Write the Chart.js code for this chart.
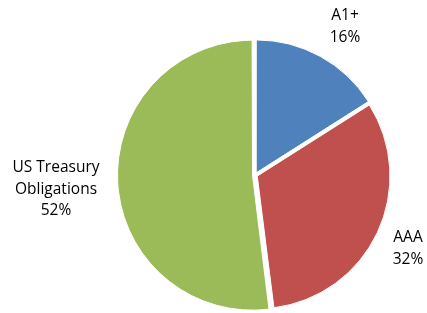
<!DOCTYPE html>
<html>
<head>
<meta charset="utf-8">
<script src="https://cdn.jsdelivr.net/npm/chart.js@4/dist/chart.umd.min.js"></script>
<style>
  html, body { margin: 0; padding: 0; background: #fff; }
  #wrap { width: 427px; height: 313px; position: relative; }
</style>
</head>
<body>
<div id="wrap"><canvas id="chart-pie"></canvas></div>
<script>
// Ratings breakdown
const categories = ['A1+', 'AAA', 'US Treasury Obligations'];
const labelLines = [['A1+'], ['AAA'], ['US Treasury', 'Obligations']];
const values = [16, 32, 52];
const colors = ['#4F81BD', '#C0504D', '#9BBB59'];

// outside labels, anchored by hand like the original
const labelSpots = [
  { x: 345, y: 16 },
  { x: 408, y: 238 },
  { x: 56, y: 168 }
];

const outsideLabels = {
  id: 'outsideLabels',
  afterDraw(chart) {
    const ctx = chart.ctx;
    ctx.save();
    ctx.font = '15.5px "Open Sans", Arial, sans-serif';
    ctx.fillStyle = '#000';
    ctx.textAlign = 'center';
    ctx.textBaseline = 'middle';
    const data = chart.data.datasets[0].data;
    data.forEach((v, i) => {
      const lines = [...labelLines[i], v + '%'];
      const spot = labelSpots[i];
      lines.forEach((t, j) => ctx.fillText(t, spot.x, spot.y + j * 21.5));
    });
    ctx.restore();
  }
};

new Chart(document.getElementById('chart-pie'), {
  type: 'pie',
  data: {
    labels: categories,
    datasets: [{
      data: values,
      backgroundColor: colors,
      borderColor: '#fff',
      borderWidth: 1,
      offset: 10,
      hoverOffset: 0
    }]
  },
  options: {
    responsive: true,
    maintainAspectRatio: false,
    animation: false,
    layout: { padding: { top: 37, bottom: -10, left: 112, right: 29 } },
    plugins: {
      legend: { display: false },
      tooltip: { enabled: false }
    }
  },
  plugins: [outsideLabels]
});
</script>
</body>
</html>
